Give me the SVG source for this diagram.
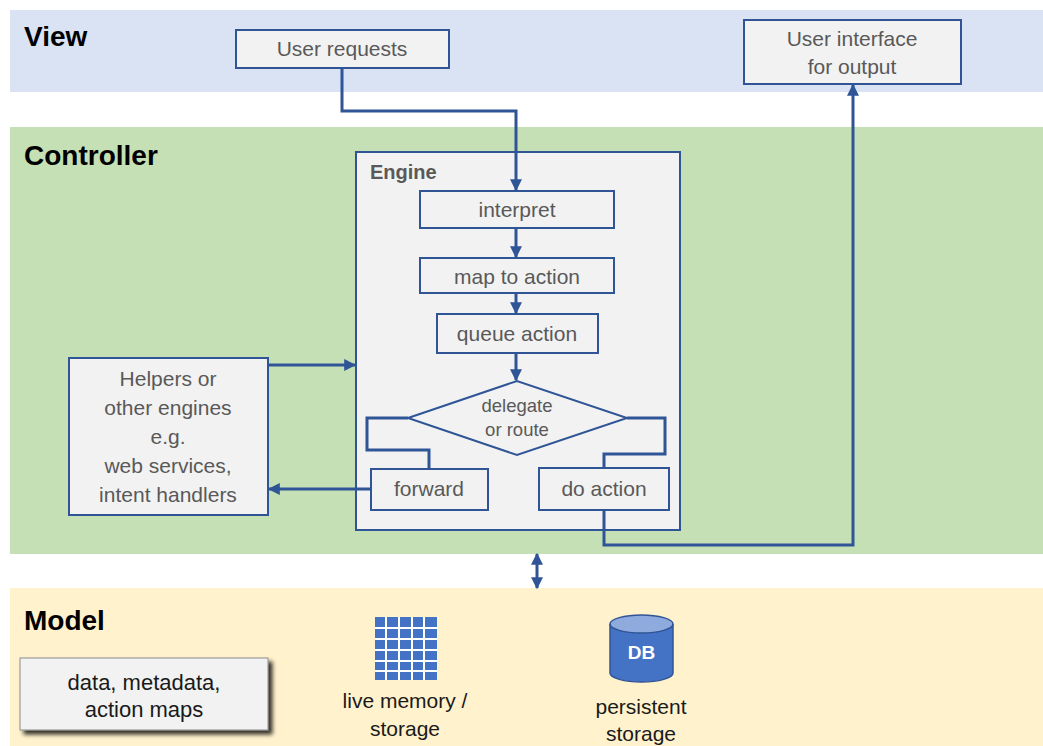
<svg xmlns="http://www.w3.org/2000/svg" width="1043" height="746" viewBox="0 0 1043 746">
<defs>
<style>
.band-title{font-family:"Liberation Sans",Arial,sans-serif;font-weight:bold;font-size:28px;fill:#000}
.box{fill:#f2f2f2;stroke:#2f5597;stroke-width:2}
.lbl{font-family:"Liberation Sans",Arial,sans-serif;font-size:21px;fill:#595959;text-anchor:middle}
.mlbl{font-family:"Liberation Sans",Arial,sans-serif;font-size:21px;fill:#1a1a1a;text-anchor:middle}
.conn{fill:none;stroke:#2f5597;stroke-width:3}
</style>
<marker id="arr" viewBox="0 0 10 10" refX="9" refY="5" markerWidth="4" markerHeight="4" orient="auto-start-reverse" markerUnits="strokeWidth">
<path d="M0,0 L10,5 L0,10 z" fill="#2f5597"/>
</marker>
<filter id="sh" x="-10%" y="-10%" width="130%" height="140%">
<feDropShadow dx="4" dy="4" stdDeviation="2" flood-color="#000" flood-opacity="0.8"/>
</filter>
</defs>

<g id="bands">
<rect x="10" y="10" width="1033" height="82" fill="#dae3f3"/>
<rect x="10" y="127" width="1033" height="427" fill="#c5e0b4"/>
<rect x="10" y="588" width="1033" height="158" fill="#fff2cc"/>
<text class="band-title" x="24" y="46">View</text>
<text class="band-title" x="24" y="165">Controller</text>
<text class="band-title" x="24" y="630">Model</text>
</g>

<g id="user-requests">
<rect class="box" x="236" y="30" width="213" height="38"/>
<text class="lbl" x="342" y="56">User requests</text>
</g>

<g id="user-interface">
<rect class="box" x="744" y="20" width="217" height="64"/>
<text class="lbl" x="852" y="46">User interface</text>
<text class="lbl" x="852" y="74">for output</text>
</g>

<g id="engine">
<rect class="box" x="356" y="152" width="324" height="378"/>
<text x="370" y="179" style="font-family:'Liberation Sans',Arial,sans-serif;font-weight:bold;font-size:20px;fill:#595959">Engine</text>
</g>

<g id="interpret">
<rect class="box" x="420" y="191" width="194" height="37"/>
<text class="lbl" x="517" y="217">interpret</text>
</g>

<g id="map-to-action">
<rect class="box" x="420" y="258" width="194" height="35"/>
<text class="lbl" x="517" y="284">map to action</text>
</g>

<g id="queue-action">
<rect class="box" x="437" y="314" width="161" height="39"/>
<text class="lbl" x="517" y="341">queue action</text>
</g>

<g id="delegate">
<polygon class="box" points="408,418 517,381 627,418 517,455"/>
<text class="lbl" x="517" y="412" style="font-size:18.5px">delegate</text>
<text class="lbl" x="517" y="436" style="font-size:18.5px">or route</text>
</g>

<g id="forward">
<rect class="box" x="371" y="469" width="117" height="41"/>
<text class="lbl" x="429" y="496">forward</text>
</g>

<g id="do-action">
<rect class="box" x="539" y="468" width="130" height="42"/>
<text class="lbl" x="604" y="496">do action</text>
</g>

<g id="helpers">
<rect class="box" x="69" y="358" width="199" height="157"/>
<text class="lbl" x="168" y="386">Helpers or</text>
<text class="lbl" x="168" y="415">other engines</text>
<text class="lbl" x="168" y="444">e.g.</text>
<text class="lbl" x="168" y="473">web services,</text>
<text class="lbl" x="168" y="502">intent handlers</text>
</g>

<g id="data-box">
<rect x="20" y="658" width="248" height="72" fill="#f2f2f2" stroke="#8c8c8c" stroke-width="1" filter="url(#sh)"/>
<text class="mlbl" x="144" y="690" style="font-size:22px">data, metadata,</text>
<text class="mlbl" x="144" y="717" style="font-size:22px">action maps</text>
</g>

<g id="live-memory">
<rect x="375" y="617" width="62" height="63" fill="#4472c4"/>
<g stroke="#fff" stroke-width="2">
<line x1="386" y1="617" x2="386" y2="680"/>
<line x1="399" y1="617" x2="399" y2="680"/>
<line x1="412" y1="617" x2="412" y2="680"/>
<line x1="424" y1="617" x2="424" y2="680"/>
<line x1="375" y1="628" x2="437" y2="628"/>
<line x1="375" y1="639" x2="437" y2="639"/>
<line x1="375" y1="650" x2="437" y2="650"/>
<line x1="375" y1="661" x2="437" y2="661"/>
<line x1="375" y1="671" x2="437" y2="671"/>
</g>
<text class="mlbl" x="405" y="708">live memory /</text>
<text class="mlbl" x="405" y="736">storage</text>
</g>

<g id="db">
<path d="M610,624 L610,673 A31.5,9 0 0 0 673,673 L673,624" fill="#4472c4" stroke="#2f5597" stroke-width="1.5"/>
<ellipse cx="641.5" cy="624" rx="31.5" ry="9" fill="#8faadc" stroke="#2f5597" stroke-width="1.5"/>
<text x="641.5" y="659" text-anchor="middle" style="font-family:'Liberation Sans',Arial,sans-serif;font-size:19px;font-weight:bold;fill:#fff">DB</text>
<text class="mlbl" x="641" y="714">persistent</text>
<text class="mlbl" x="641" y="741">storage</text>
</g>

<g id="connectors">
<path class="conn" d="M342,68 V111 H516 V190" marker-end="url(#arr)"/>
<path class="conn" d="M516,228 V257" marker-end="url(#arr)"/>
<path class="conn" d="M516,293 V313" marker-end="url(#arr)"/>
<path class="conn" d="M516,353 V380" marker-end="url(#arr)"/>
<path class="conn" d="M408,418 H367 V450 H429 V469"/>
<path class="conn" d="M627,418 H665 V454 H604 V468"/>
<path class="conn" d="M604,510 V545 H853 V85" marker-end="url(#arr)"/>
<path class="conn" d="M268,365 H355" marker-end="url(#arr)"/>
<path class="conn" d="M371,489 H269" marker-end="url(#arr)"/>
<path class="conn" d="M537,554 V588" marker-start="url(#arr)" marker-end="url(#arr)"/>
</g>
</svg>
